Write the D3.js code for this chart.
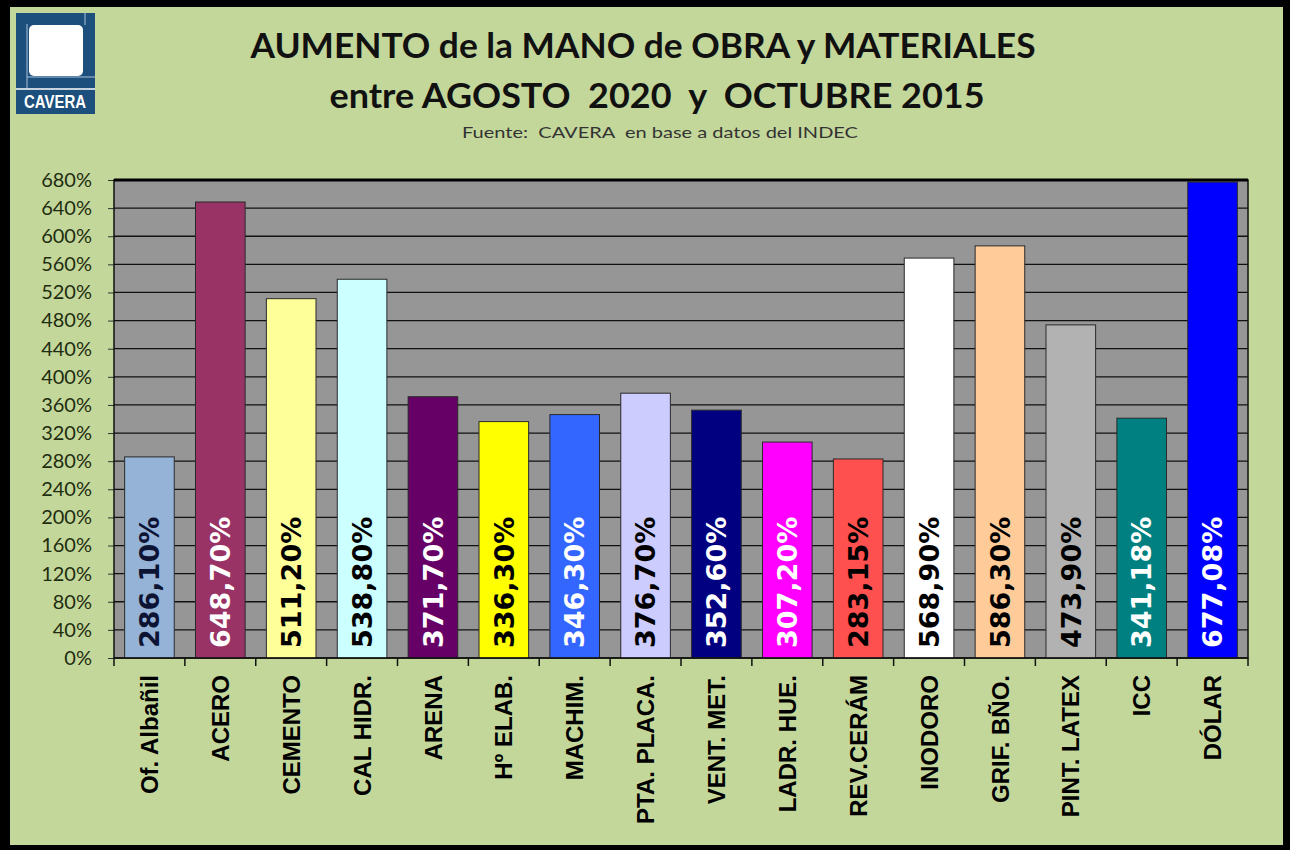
<!DOCTYPE html>
<html>
<head>
<meta charset="utf-8">
<script src="https://cdn.jsdelivr.net/npm/d3@7"></script>
<style>
  html, body { margin: 0; padding: 0; background: #000; }
  svg { display: block; }
</style>
</head>
<body>
<svg id="chart" width="1290" height="850"></svg>
<script>
var categories = ["Of. Albañil", "ACERO", "CEMENTO", "CAL HIDR.", "ARENA", "Hº ELAB.", "MACHIM.",
  "PTA. PLACA.", "VENT. MET.", "LADR. HUE.", "REV.CERÁM", "INODORO", "GRIF. BÑO.",
  "PINT. LATEX", "ICC", "DÓLAR"];
var values = [286.10, 648.70, 511.20, 538.80, 371.70, 336.30, 346.30, 376.70, 352.60,
  307.20, 283.15, 568.90, 586.30, 473.90, 341.18, 677.08];
var barColors = ["#95b3d7", "#993366", "#ffff99", "#ccffff", "#660066", "#ffff00", "#3366ff",
  "#ccccff", "#000080", "#ff00ff", "#ff5050", "#ffffff", "#ffcc99", "#b2b2b2", "#008080", "#0000ff"];
var labelColors = ["#0d1433", "#ffffff", "#000000", "#000000", "#ffffff", "#000000", "#ffffff",
  "#000000", "#ffffff", "#ffffff", "#000000", "#000000", "#000000", "#000000", "#ffffff", "#ffffff"];
var yTicks = [0, 40, 80, 120, 160, 200, 240, 280, 320, 360, 400, 440, 480, 520, 560, 600, 640, 680];

var svg = d3.select("#chart"),
  width = +svg.attr("width"),
  height = +svg.attr("height"),
  plot = {left: 114, right: 1248, top: 180, bottom: 658};

var x = d3.scaleBand()
  .domain(categories)
  .range([plot.left, plot.right])
  .paddingInner(0.3)
  .paddingOuter(0.15);

var y = d3.scaleLinear()
  .domain([0, 680])
  .range([plot.bottom, plot.top]);

// frame + background
svg.append("rect").attr("width", width).attr("height", height).attr("fill", "#000");
svg.append("rect")
  .attr("x", 10).attr("y", 7)
  .attr("width", 1273).attr("height", 838)
  .attr("fill", "#c4d79b");

// logo
var logo = svg.append("g");
logo.append("rect").attr("x", 16).attr("y", 13).attr("width", 79).attr("height", 101).attr("fill", "#1d4f7c");
logo.append("rect").attr("x", 29).attr("y", 25).attr("width", 54).attr("height", 51).attr("rx", 5).attr("fill", "#ffffff");
logo.append("line").attr("x1", 27).attr("y1", 24).attr("x2", 27).attr("y2", 88).attr("stroke", "#a9c4dc").attr("stroke-width", 1);
logo.append("line").attr("x1", 27).attr("y1", 77).attr("x2", 95).attr("y2", 77).attr("stroke", "#a9c4dc").attr("stroke-width", 1);
logo.append("line").attr("x1", 85).attr("y1", 13).attr("x2", 85).attr("y2", 25).attr("stroke", "#a9c4dc").attr("stroke-width", 1);
logo.append("line").attr("x1", 16).attr("y1", 89).attr("x2", 95).attr("y2", 89).attr("stroke", "#ffffff").attr("stroke-width", 1.5);
logo.append("text")
  .attr("x", 55).attr("y", 108)
  .attr("text-anchor", "middle")
  .attr("textLength", 62).attr("lengthAdjust", "spacingAndGlyphs")
  .style("font", "bold 19px 'Liberation Sans Narrow', 'Liberation Sans', Arial, sans-serif")
  .attr("fill", "#ffffff")
  .text("CAVERA");

// titles
svg.append("text")
  .attr("x", 643).attr("y", 58)
  .attr("text-anchor", "middle")
  .attr("textLength", 785).attr("lengthAdjust", "spacingAndGlyphs")
  .style("font", "bold 35px Lato, 'Open Sans', sans-serif")
  .attr("fill", "#111")
  .text("AUMENTO de la MANO de OBRA y MATERIALES");
svg.append("text")
  .attr("x", 657).attr("y", 108)
  .attr("text-anchor", "middle")
  .attr("textLength", 655).attr("lengthAdjust", "spacingAndGlyphs")
  .style("font", "bold 35px Lato, 'Open Sans', sans-serif")
  .style("white-space", "pre")
  .attr("fill", "#111")
  .text("entre AGOSTO  2020  y  OCTUBRE 2015");
svg.append("text")
  .attr("x", 660).attr("y", 138)
  .attr("text-anchor", "middle")
  .attr("textLength", 396).attr("lengthAdjust", "spacingAndGlyphs")
  .style("font", "16px Lato, 'Open Sans', sans-serif")
  .style("white-space", "pre")
  .attr("fill", "#333")
  .text("Fuente:  CAVERA  en base a datos del INDEC");

// plot area
svg.append("rect")
  .attr("x", plot.left).attr("y", plot.top)
  .attr("width", plot.right - plot.left).attr("height", plot.bottom - plot.top)
  .attr("fill", "#969696");

svg.append("g")
  .selectAll("line")
  .data(yTicks)
  .enter().append("line")
  .attr("x1", plot.left).attr("x2", plot.right)
  .attr("y1", function (d) { return y(d); })
  .attr("y2", function (d) { return y(d); })
  .attr("stroke", "#111")
  .attr("stroke-width", 1.3);

// y axis
var yAxis = svg.append("g")
  .attr("transform", "translate(" + plot.left + ",0)")
  .call(d3.axisLeft(y).tickValues(yTicks).tickSize(6).tickPadding(16)
    .tickFormat(function (d) { return d + "%"; }));
yAxis.select(".domain").remove();
yAxis.selectAll(".tick line").attr("stroke", "#333");
yAxis.selectAll(".tick text")
  .attr("fill", "#1e2d0f")
  .style("font", "20px Lato, 'Open Sans', sans-serif");

// bars
svg.append("g")
  .selectAll("rect")
  .data(values)
  .enter().append("rect")
  .attr("x", function (d, i) { return x(categories[i]); })
  .attr("y", function (d) { return y(d); })
  .attr("width", x.bandwidth())
  .attr("height", function (d) { return y(0) - y(d); })
  .attr("fill", function (d, i) { return barColors[i]; })
  .attr("stroke", "#2a2a2a")
  .attr("stroke-width", 1);

// value labels
svg.append("g")
  .selectAll("text")
  .data(values)
  .enter().append("text")
  .attr("transform", function (d, i) {
    return "translate(" + (x(categories[i]) + x.bandwidth() / 2) + "," + (plot.bottom - 10) + ") rotate(-90)";
  })
  .attr("dy", "0.36em")
  .attr("text-anchor", "start")
  .style("font", "bold 27px 'DejaVu Sans', sans-serif")
  .attr("fill", function (d, i) { return labelColors[i]; })
  .text(function (d) { return d3.format(".2f")(d).replace(".", ",") + "%"; });

// plot border
svg.append("rect")
  .attr("x", plot.left).attr("y", plot.top)
  .attr("width", plot.right - plot.left).attr("height", plot.bottom - plot.top)
  .attr("fill", "none")
  .attr("stroke", "#111")
  .attr("stroke-width", 1.5);
svg.append("line")
  .attr("x1", plot.left).attr("x2", plot.right)
  .attr("y1", plot.top).attr("y2", plot.top)
  .attr("stroke", "#000").attr("stroke-width", 3);

// x ticks between categories
var edges = categories.map(function (c) { return x(c) - x.step() * x.paddingInner() / 2; });
edges.push(plot.right);
svg.append("g")
  .selectAll("line")
  .data(edges)
  .enter().append("line")
  .attr("x1", function (d) { return d; }).attr("x2", function (d) { return d; })
  .attr("y1", plot.bottom).attr("y2", plot.bottom + 8)
  .attr("stroke", "#111").attr("stroke-width", 1.5);

// category labels
svg.append("g")
  .selectAll("text")
  .data(categories)
  .enter().append("text")
  .attr("transform", function (d) {
    return "translate(" + (x(d) + x.bandwidth() / 2) + "," + (plot.bottom + 17) + ") rotate(-90)";
  })
  .attr("dy", "0.36em")
  .attr("text-anchor", "end")
  .style("font", "bold 24px 'Liberation Sans', Arial, sans-serif")
  .attr("fill", "#000")
  .text(function (d) { return d; });
</script>
</body>
</html>
